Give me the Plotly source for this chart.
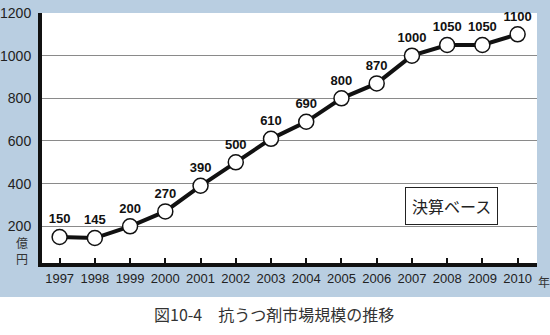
import plotly.graph_objects as go

years = [1997, 1998, 1999, 2000, 2001, 2002, 2003, 2004, 2005, 2006, 2007, 2008, 2009, 2010]
market_size = [150, 145, 200, 270, 390, 500, 610, 690, 800, 870, 1000, 1050, 1050, 1100]
y_ticks = [200, 400, 600, 800, 1000, 1200]

W, H = 550, 335
L, R, T, B = 42, 13, 13, 72
PW, PH = W - L - R, H - T - B


def px(x):
    return (x - L) / PW


def py(y):
    return (H - B - y) / PH


LATIN = "Liberation Sans, Arial, sans-serif"
CJK = "Noto Sans CJK JP, sans-serif"
BLUE = "#b9cee1"


def note(text, x, y, size, **kw):
    return dict(text=text, xref="paper", yref="paper", x=px(x), y=py(y),
                xanchor="center", yanchor="middle", showarrow=False,
                font=dict(family=CJK, size=size, color=kw.pop("color", "#333333")),
                **kw)


fig = go.Figure()
fig.add_trace(go.Scatter(
    x=years, y=market_size,
    mode="lines+markers+text",
    line=dict(color="#111111", width=4),
    marker=dict(size=15, color="white", line=dict(color="#111111", width=1.5)),
    text=[str(v) for v in market_size],
    textposition="top center",
    textfont=dict(family=LATIN, size=13, color="#111111", weight="bold"),
    cliponaxis=False,
    hoverinfo="skip",
))

fig.update_layout(
    width=W, height=H,
    margin=dict(l=L, r=R, t=T, b=B),
    paper_bgcolor=BLUE,
    plot_bgcolor="white",
    showlegend=False,
    xaxis=dict(
        range=[1996.5, 2010.55],
        tickvals=years,
        ticktext=[str(y) for y in years],
        showgrid=False, zeroline=False,
        showline=True, linecolor="#111111", linewidth=4,
        ticks="inside", ticklen=5, tickwidth=1.5, tickcolor="#111111",
        tickfont=dict(family=LATIN, size=13, color="#222222"),
        automargin=False,
        fixedrange=True,
    ),
    yaxis=dict(
        range=[28, 1200],
        tickvals=y_ticks,
        showgrid=True, gridcolor="#8a8a8a", gridwidth=1,
        zeroline=False,
        showline=True, linecolor="#111111", linewidth=4,
        ticks="", ticklabelstandoff=4,
        tickfont=dict(family=LATIN, size=14, color="#222222"),
        automargin=False,
        fixedrange=True,
    ),
    shapes=[
        # white strip below the blue panel, holding the caption
        dict(type="rect", xref="paper", yref="paper",
             x0=px(0), x1=px(W), y0=py(297), y1=py(H + 2),
             fillcolor="white", line=dict(width=0), layer="below"),
    ],
    annotations=[
        note("億<br>円", 22, 250, 12),
        note("年", 544, 281, 12),
        note("決算ベース", 451.5, 205.5, 16, color="#222222",
             bgcolor="white", bordercolor="#222222", borderwidth=1, borderpad=6),
        note("図10-4　抗うつ剤市場規模の推移", 274, 314, 16),
    ],
)

fig.write_html("out.html")
